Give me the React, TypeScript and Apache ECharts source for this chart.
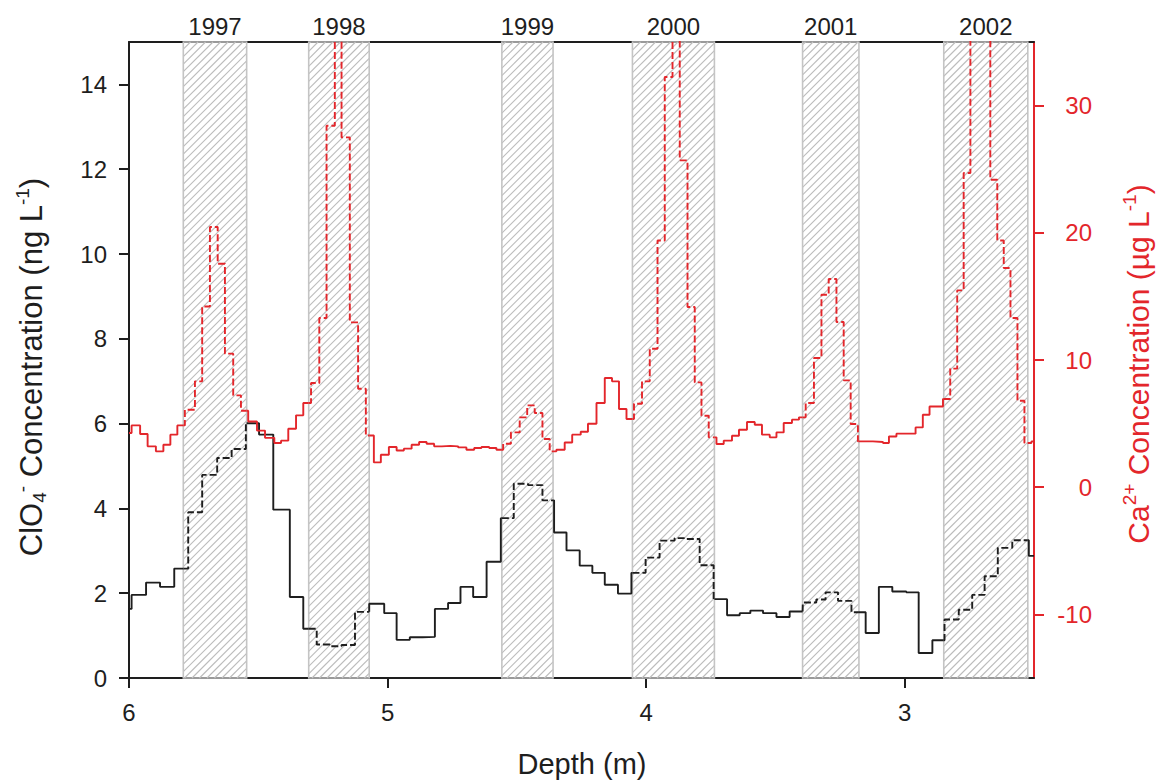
import React, { useEffect, useRef } from 'react';
import * as echarts from 'echarts';

// Depth (m) boundaries of each sample step and the ClO4- values (ng/L)
const blackEdges = [
  6.0, 5.99, 5.934, 5.88, 5.825, 5.771, 5.717, 5.659, 5.603, 5.548, 5.497, 5.442, 5.378, 5.326, 5.274,
  5.223, 5.178, 5.126, 5.071, 5.013, 4.965, 4.914, 4.865, 4.817, 4.766, 4.718, 4.669, 4.617, 4.562,
  4.512, 4.457, 4.401, 4.356, 4.308, 4.257, 4.208, 4.16, 4.109, 4.057, 4.002, 3.948, 3.89, 3.844,
  3.793, 3.739, 3.687, 3.638, 3.597, 3.548, 3.496, 3.445, 3.394, 3.342, 3.306, 3.258, 3.206, 3.151,
  3.1, 3.048, 2.994, 2.946, 2.893, 2.846, 2.791, 2.739, 2.691, 2.64, 2.584, 2.52, 2.5,
];
const blackValues = [
  1.63, 1.96, 2.25, 2.15, 2.58, 3.91, 4.79, 5.19, 5.4, 6.01, 5.74, 3.97, 1.91, 1.16, 0.79, 0.75, 0.78,
  1.56, 1.75, 1.53, 0.9, 0.96, 0.97, 1.63, 1.77, 2.15, 1.91, 2.74, 3.77, 4.58, 4.55, 4.19, 3.43, 3.01,
  2.65, 2.48, 2.2, 1.99, 2.48, 2.84, 3.24, 3.3, 3.28, 2.66, 1.86, 1.48, 1.53, 1.59, 1.53, 1.44, 1.57,
  1.78, 1.85, 2.02, 1.82, 1.55, 1.06, 2.15, 2.04, 2.02, 0.59, 0.89, 1.38, 1.61, 1.96, 2.4, 3.07, 3.25,
  2.88,
];

// Depth (m) boundaries and Ca2+ values (ug/L)
const redEdges = [
  6.0, 5.99, 5.957, 5.928, 5.896, 5.867, 5.84, 5.813, 5.784, 5.745, 5.717, 5.687, 5.657, 5.629, 5.597,
  5.567, 5.539, 5.505, 5.474, 5.438, 5.412, 5.384, 5.354, 5.326, 5.296, 5.264, 5.236, 5.204, 5.178,
  5.146, 5.114, 5.084, 5.053, 5.026, 4.995, 4.965, 4.937, 4.907, 4.878, 4.849, 4.82, 4.79, 4.757,
  4.727, 4.695, 4.665, 4.637, 4.607, 4.579, 4.553, 4.523, 4.489, 4.46, 4.431, 4.401, 4.373, 4.347,
  4.315, 4.286, 4.253, 4.225, 4.192, 4.16, 4.132, 4.105, 4.076, 4.047, 4.016, 3.986, 3.956, 3.928,
  3.898, 3.87, 3.84, 3.812, 3.786, 3.758, 3.728, 3.7, 3.668, 3.641, 3.61, 3.58, 3.552, 3.522, 3.496,
  3.468, 3.436, 3.409, 3.383, 3.351, 3.322, 3.294, 3.264, 3.236, 3.209, 3.181, 3.123, 3.084, 3.061,
  3.032, 2.958, 2.93, 2.904, 2.852, 2.824, 2.797, 2.772, 2.746, 2.708, 2.669, 2.642, 2.617, 2.591,
  2.564, 2.537, 2.51, 2.5,
];
const redValues = [
  4.26, 4.86, 4.18, 3.21, 2.82, 3.34, 4.13, 4.86, 6.09, 8.32, 14.21, 20.46, 17.57, 10.5, 7.22, 6.01,
  5.17, 4.45, 3.88, 3.47, 3.66, 4.6, 5.65, 6.62, 8.19, 13.3, 28.42, 38, 27.5, 12.96, 7.74, 4.07, 1.95,
  2.55, 3.16, 2.89, 3.03, 3.34, 3.55, 3.42, 3.21, 3.25, 3.21, 3.13, 2.95, 3.08, 3.16, 3.08, 2.95, 3.42,
  4.31, 5.49, 6.43, 5.83, 3.79, 2.82, 2.95, 3.52, 4.13, 4.36, 4.99, 6.62, 8.58, 8.32, 6.15, 5.36, 6.56,
  8.32, 10.89, 19.4, 32.25, 40, 25.69, 14.17, 8.24, 5.62, 3.92, 3.4, 3.66, 4.05, 4.52, 5.13, 4.91,
  4.13, 3.92, 4.31, 5.05, 5.31, 5.49, 6.62, 10.16, 15.13, 16.37, 12.99, 8.4, 4.97, 3.6, 3.55, 3.48,
  3.99, 4.21, 4.7, 5.7, 6.35, 6.93, 9.32, 15.47, 24.7, 38, 42, 24.17, 19.4, 17.23, 13.3, 6.8, 3.47, 3.6,
];

// Annual layers (depth ranges)
const bandStart = [5.79, 5.305, 4.558, 4.053, 3.395, 2.849];
const bandEnd = [5.545, 5.071, 4.36, 3.736, 3.177, 2.524];
const yearLabels = ['1997', '1998', '1999', '2000', '2001', '2002'];

const depthTicks = [6, 5, 4, 3];
const leftTicks = [0, 2, 4, 6, 8, 10, 12, 14];
const rightTicks = [-10, 0, 10, 20, 30];

const FONT = '"Liberation Sans", Arial, sans-serif';
const BLACK = '#1e1e1e';
const RED = '#e3262b';

function splitStep(edges: number[], values: number[]) {
  const pts: number[][] = [];
  for (let i = 0; i < values.length; i++) {
    pts.push([edges[i], values[i]], [edges[i + 1], values[i]]);
  }
  const bounds = [...bandStart, ...bandEnd];
  const inBand = (x: number) => bandStart.some((s, i) => x < s && x > bandEnd[i]);
  const solid: any[] = [];
  const dashed: any[] = [];
  let lastS: number[] | null = null;
  let lastD: number[] | null = null;
  const add = (a: number[], b: number[]) => {
    const dash = inBand((a[0] + b[0]) / 2);
    const arr = dash ? dashed : solid;
    const last = dash ? lastD : lastS;
    if (last && last[0] === a[0] && last[1] === a[1]) arr.push(b);
    else {
      if (arr.length) arr.push(['-', '-']);
      arr.push(a, b);
    }
    if (dash) lastD = b;
    else lastS = b;
  };
  for (let j = 0; j < pts.length - 1; j++) {
    const a = pts[j];
    const b = pts[j + 1];
    if (a[0] === b[0] && a[1] === b[1]) continue;
    if (a[1] === b[1]) {
      const lo = Math.min(a[0], b[0]);
      const hi = Math.max(a[0], b[0]);
      const cuts = bounds
        .filter((c) => c > lo && c < hi)
        .sort((p, q) => (a[0] > b[0] ? q - p : p - q));
      let prev = a;
      for (const c of cuts) {
        const m = [c, a[1]];
        add(prev, m);
        prev = m;
      }
      add(prev, b);
    } else add(a, b);
  }
  return { solid, dashed };
}

export default function App() {
  const ref = useRef<HTMLDivElement>(null);

  useEffect(() => {
    if (!ref.current) return;
    const chart = echarts.init(ref.current, undefined, { renderer: 'svg' });
    const black = splitStep(blackEdges, blackValues);
    const red = splitStep(redEdges, redValues);

    const lineBase = {
      type: 'line',
      showSymbol: false,
      symbol: 'none',
      connectNulls: false,
      silent: true,
      z: 3,
    };

    const option: any = {
      animation: false,
      backgroundColor: '#ffffff',
      grid: { left: 129, right: 123, top: 42, bottom: 104, containLabel: false },
      xAxis: [
        {
          type: 'value',
          min: 2.5,
          max: 6,
          inverse: true,
          position: 'bottom',
          axisLine: { show: true, onZero: false, lineStyle: { color: BLACK, width: 2 } },
          axisTick: { show: true, inside: false, length: 10, lineStyle: { color: BLACK, width: 2 }, customValues: depthTicks },
          axisLabel: { customValues: depthTicks, fontSize: 24, color: BLACK, margin: 22, fontFamily: FONT },
          splitLine: { show: false },
        },
        {
          type: 'value',
          min: 2.5,
          max: 6,
          inverse: true,
          position: 'top',
          axisLine: { show: true, onZero: false, lineStyle: { color: BLACK, width: 2 } },
          axisTick: { show: false },
          axisLabel: { show: false },
          splitLine: { show: false },
        },
      ],
      yAxis: [
        {
          type: 'value',
          min: 0,
          max: 15,
          position: 'left',
          axisLine: { show: true, onZero: false, lineStyle: { color: BLACK, width: 2 } },
          axisTick: { show: true, inside: false, length: 10, lineStyle: { color: BLACK, width: 2 }, customValues: leftTicks },
          axisLabel: { customValues: leftTicks, fontSize: 24, color: BLACK, margin: 22, fontFamily: FONT },
          splitLine: { show: false },
        },
        {
          type: 'value',
          min: -15,
          max: 35,
          position: 'right',
          axisLine: { show: true, onZero: false, lineStyle: { color: RED, width: 2 } },
          axisTick: { show: true, inside: false, length: 10, lineStyle: { color: RED, width: 2 }, customValues: rightTicks },
          axisLabel: { customValues: rightTicks, fontSize: 24, color: RED, margin: 58, align: 'right', fontFamily: FONT },
          splitLine: { show: false },
        },
      ],
      series: [
        {
          type: 'custom',
          xAxisIndex: 0,
          yAxisIndex: 0,
          silent: true,
          clip: false,
          z: 1,
          data: bandStart.map((s, i) => [s, bandEnd[i]]),
          encode: { x: [0, 1] },
          renderItem: (params: any, api: any) => {
            const s = api.value(0);
            const e = api.value(1);
            const p0 = api.coord([s, 0]);
            const p1 = api.coord([e, 15]);
            const x0 = Math.min(p0[0], p1[0]);
            const x1 = Math.max(p0[0], p1[0]);
            const y0 = Math.min(p0[1], p1[1]);
            const y1 = Math.max(p0[1], p1[1]);
            const children: any[] = [];
            const sp = 7.5;
            const cStart = Math.ceil((x0 + y0) / sp) * sp;
            for (let c = cStart; c < x1 + y1; c += sp) {
              const xa = Math.max(x0, c - y1);
              const xb = Math.min(x1, c - y0);
              if (xb <= xa) continue;
              children.push({
                type: 'line',
                shape: { x1: xa, y1: c - xa, x2: xb, y2: c - xb },
                style: { stroke: '#bcbcbc', lineWidth: 1.1 },
              });
            }
            children.push({
              type: 'rect',
              shape: { x: x0, y: y0, width: x1 - x0, height: y1 - y0 },
              style: { fill: 'none', stroke: '#c4c4c4', lineWidth: 1.6 },
            });
            children.push({
              type: 'text',
              x: (x0 + x1) / 2,
              y: y0 - 16,
              style: {
                text: yearLabels[params.dataIndex],
                align: 'center',
                verticalAlign: 'middle',
                fontSize: 24,
                fill: BLACK,
                fontFamily: FONT,
              },
            });
            return { type: 'group', children };
          },
        },
        { ...lineBase, name: 'ClO4 solid', xAxisIndex: 0, yAxisIndex: 0, data: black.solid, lineStyle: { color: BLACK, width: 1.9 } },
        { ...lineBase, name: 'ClO4 dashed', xAxisIndex: 0, yAxisIndex: 0, data: black.dashed, lineStyle: { color: BLACK, width: 1.9, type: [7, 3] } },
        { ...lineBase, name: 'Ca solid', xAxisIndex: 0, yAxisIndex: 1, data: red.solid, lineStyle: { color: RED, width: 1.9 } },
        { ...lineBase, name: 'Ca dashed', xAxisIndex: 0, yAxisIndex: 1, data: red.dashed, lineStyle: { color: RED, width: 1.9, type: [7, 3] } },
      ],
      graphic: [
        {
          type: 'text',
          x: 31,
          y: 367,
          rotation: Math.PI / 2,
          style: {
            text: '{n|ClO}{sub|4}{sup|-}{n| Concentration (ng L}{sup|-1}{n|)}',
            align: 'center',
            verticalAlign: 'middle',
            fill: BLACK,
            fontFamily: FONT,
            rich: {
              n: { fontSize: 31, lineHeight: 36, fontFamily: FONT, fill: BLACK },
              sub: { fontSize: 19, lineHeight: 20, verticalAlign: 'bottom', fontFamily: FONT, fill: BLACK },
              sup: { fontSize: 19, lineHeight: 20, verticalAlign: 'top', fontFamily: FONT, fill: BLACK },
            },
          },
        },
        {
          type: 'text',
          x: 1138,
          y: 364,
          rotation: Math.PI / 2,
          style: {
            text: '{n|Ca}{sup|2+}{n| Concentration (µg L}{sup|-1}{n|)}',
            align: 'center',
            verticalAlign: 'middle',
            fill: RED,
            fontFamily: FONT,
            rich: {
              n: { fontSize: 30, lineHeight: 36, fontFamily: FONT, fill: RED },
              sup: { fontSize: 19, lineHeight: 20, verticalAlign: 'top', fontFamily: FONT, fill: RED },
            },
          },
        },
        {
          type: 'text',
          x: 582,
          y: 764,
          style: {
            text: 'Depth (m)',
            align: 'center',
            verticalAlign: 'middle',
            fontSize: 29,
            fill: BLACK,
            fontFamily: FONT,
          },
        },
      ],
    };

    chart.setOption(option);
    return () => chart.dispose();
  }, []);

  return (
    <div
      ref={ref}
      style={{ position: 'absolute', left: 0, top: 0, width: 1157, height: 782, background: '#fff' }}
    />
  );
}
